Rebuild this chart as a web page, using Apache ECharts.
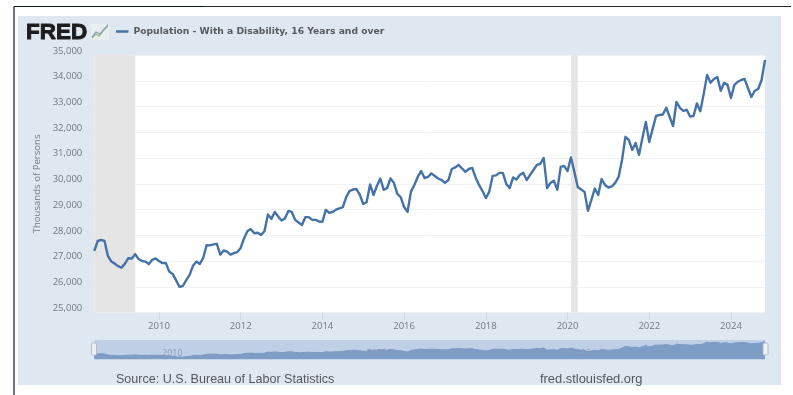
<!DOCTYPE html>
<html><head><meta charset="utf-8">
<style>html,body{margin:0;padding:0;background:#fff}#c{width:793px;height:395px;filter:blur(0.6px)}</style>
<script src="https://cdn.jsdelivr.net/npm/echarts@6/dist/echarts.min.js"></script>
</head><body><div id="c"></div>
<script>
const seriesName = 'Population - With a Disability, 16 Years and over';
const axisTitle = 'Thousands of Persons';
const sourceText = 'Source: U.S. Bureau of Labor Statistics';
const siteText = 'fred.stlouisfed.org';
const startYear = 2008, startMonth = 6;
const tickYears = ['2010','2012','2014','2016','2018','2020','2022','2024'];
const navigatorYears = ['2010','2015','2020'];
const recessions = [['2008-06','2009-06'],['2020-02','2020-04']];
const population = [
27400,27780,27820,27780,27200,26980,26900,26800,26740,26900,27110,27100,27270,27080,27000,26980,26880,27050,27100,27000,
26920,26930,26590,26500,26260,26000,26030,26260,26460,26820,26980,26890,27130,27620,27610,27650,27670,27250,27410,27370,
27250,27310,27350,27510,27890,28170,28240,28080,28100,28010,28170,28810,28640,28910,28730,28580,28660,28950,28910,28600,
28500,28400,28710,28710,28600,28600,28540,28530,28990,28870,28910,29000,29050,29100,29490,29730,29780,29800,29570,29220,
29300,29980,29570,29920,30210,29770,29840,30210,30040,29610,29490,29100,28910,29700,29960,30270,30500,30230,30270,30410,
30310,30210,30150,30040,30150,30580,30640,30740,30600,30470,30580,30620,30250,29960,29730,29450,29690,30310,30330,30430,
30430,30000,29840,30250,30170,30350,30430,30150,30350,30540,30740,30780,31010,29840,30040,30120,29770,30660,30700,30500,
31030,30470,29880,29780,29690,28950,29380,29820,29570,30190,29960,29860,29900,30040,30270,30930,31830,31710,31320,31590,
31130,31790,32410,31630,32140,32640,32680,32700,32960,32600,32250,33190,32960,32840,32880,32620,32640,33130,32820,33500,
34240,33930,34080,34160,33620,33930,33850,33340,33850,33970,34040,34080,33730,33380,33620,33690,34040,34820];

const months = population.map((_, i) => {
  const m = startMonth - 1 + i;
  return (startYear + Math.floor(m / 12)) + '-' + String(m % 12 + 1).padStart(2, '0');
});
const isYearTick = (i, v) => v.endsWith('-01') && tickYears.includes(v.slice(0, 4));
const isNavYear = (i, v) => v.endsWith('-01') && navigatorYears.includes(v.slice(0, 4));

const chart = echarts.init(document.getElementById('c'), null, {renderer: 'canvas'});
const font = '"Open Sans", sans-serif';
chart.setOption({
  animation: false,
  backgroundColor: '#fff',
  legend: {
    data: [seriesName], left: 116, top: 27, padding: 0, itemWidth: 12.5, itemHeight: 2.5, icon: 'rect', itemGap: 0,
    textStyle: {fontFamily: '"DejaVu Sans", sans-serif', fontWeight: 'bold', fontSize: 9.2, color: '#56595e', padding: [0,0,0,0]}
  },
  grid: [
    {left: 94.3, width: 670.7, top: 55.3, height: 257.2, show: true, backgroundColor: '#fff', borderWidth: 0, containLabel: false},
    {left: 94.3, width: 670.7, top: 340, height: 19.3, show: true, backgroundColor: '#bfcfe6', borderWidth: 0}
  ],
  xAxis: [
    {type: 'category', gridIndex: 0, data: months, boundaryGap: false,
     axisLine: {show: false},
     axisTick: {show: true, length: 7, interval: isYearTick, lineStyle: {color: '#ccd7e2', width: 1}},
     axisLabel: {interval: isYearTick, formatter: v => v.slice(0, 4), margin: 9, fontFamily: font, fontSize: 9.5, color: '#73787e'},
     splitLine: {show: false}},
    {type: 'category', gridIndex: 1, data: months, boundaryGap: false, z: 5,
     axisLine: {show: false}, axisTick: {show: false},
     axisLabel: {inside: true, interval: isNavYear, formatter: v => v.slice(0, 4), margin: 1, align: 'left', verticalAlign: 'bottom', padding: [0,0,0,3], fontFamily: font, fontSize: 9, color: '#8399b8'},
     splitLine: {show: false}}
  ],
  yAxis: [
    {type: 'value', gridIndex: 0, min: 25000, max: 35000, interval: 1000,
     name: axisTitle, nameLocation: 'middle', nameGap: 52, nameRotate: 90,
     nameTextStyle: {fontFamily: font, fontSize: 9.6, color: '#777b80'},
     axisLine: {show: false}, axisTick: {show: false},
     axisLabel: {margin: 12, verticalAlign: 'bottom', lineHeight: 9, fontFamily: font, fontSize: 9.5, color: '#73787e',
       formatter: v => v.toLocaleString('en-US')},
     splitLine: {show: true, lineStyle: {color: '#f1f2f3', width: 1}}},
    {type: 'value', gridIndex: 1, min: 24800, max: 35500, show: false, splitLine: {show: false}}
  ],
  series: [
    {name: seriesName, type: 'line', xAxisIndex: 0, yAxisIndex: 0, data: population, showSymbol: false, smooth: false,
     lineStyle: {color: '#4572a7', width: 2.4, join: 'round'}, itemStyle: {color: '#4572a7'},
     markArea: {silent: true, itemStyle: {color: '#e5e5e5', opacity: 1},
       data: recessions.map(r => [{xAxis: r[0]}, {xAxis: r[1]}])}},
    {name: 'navigator', type: 'line', xAxisIndex: 1, yAxisIndex: 1, data: population, showSymbol: false,
     lineStyle: {color: '#7c9ac4', width: 1}, areaStyle: {color: '#7d9cc6', opacity: 1}, itemStyle: {color: '#7d9cc6'}}
  ],
  graphic: [
    {type: 'rect', z: -10, silent: true, shape: {x: 18, y: 16, width: 763, height: 369}, style: {fill: '#dfe8f0'}},
    {type: 'line', z: 50, silent: true, shape: {x1: 14, y1: 6.5, x2: 203, y2: 6.5}, style: {stroke: '#101828', lineWidth: 1.2}},
    {type: 'line', z: 50, silent: true, shape: {x1: 203, y1: 6.5, x2: 791, y2: 6.5}, style: {stroke: '#23272e', lineWidth: 1.1}},
    {type: 'line', z: 50, silent: true, shape: {x1: 14, y1: 6.5, x2: 14, y2: 395}, style: {stroke: '#101828', lineWidth: 1.2}},
    {type: 'text', z: 50, silent: true, style: {x: 26, y: 32.5, text: 'FRED', fill: '#1c1c1e', stroke: '#1c1c1e', lineWidth: 0.9, font: 'bold 22.5px "Liberation Sans", Arial, sans-serif', textVerticalAlign: 'middle'}},
    {type: 'rect', z: 50, silent: true, shape: {x: 91, y: 24, width: 18, height: 16}, style: {fill: '#e9eeee'}},
    {type: 'polyline', z: 51, silent: true, shape: {points: [[92,38],[96,34],[99,36],[103,31],[108,26]]}, style: {stroke: '#9dbb83', lineWidth: 1.4, fill: 'none'}},
    {type: 'polyline', z: 51, silent: true, shape: {points: [[92,37],[96,32],[100,34],[104,29],[108,24.5]]}, style: {stroke: '#7d9dc2', lineWidth: 1.1, fill: 'none'}},
    {type: 'rect', z: 60, silent: true, shape: {x: 91.5, y: 343, width: 5, height: 12, r: 1}, style: {fill: '#eceff3', stroke: '#aab2bd', lineWidth: 0.8}},
    {type: 'rect', z: 60, silent: true, shape: {x: 763, y: 343, width: 5, height: 12, r: 1}, style: {fill: '#eceff3', stroke: '#aab2bd', lineWidth: 0.8}},
    {type: 'text', z: 50, silent: true, style: {x: 116, y: 379.5, text: sourceText, fill: '#55585c', font: '12.55px "Liberation Sans", Arial, sans-serif', textVerticalAlign: 'middle'}},
    {type: 'text', z: 50, silent: true, style: {x: 540, y: 379, text: siteText, fill: '#55585c', font: '12.9px "Liberation Sans", Arial, sans-serif', textVerticalAlign: 'middle'}}
  ]
});
</script></body></html>
